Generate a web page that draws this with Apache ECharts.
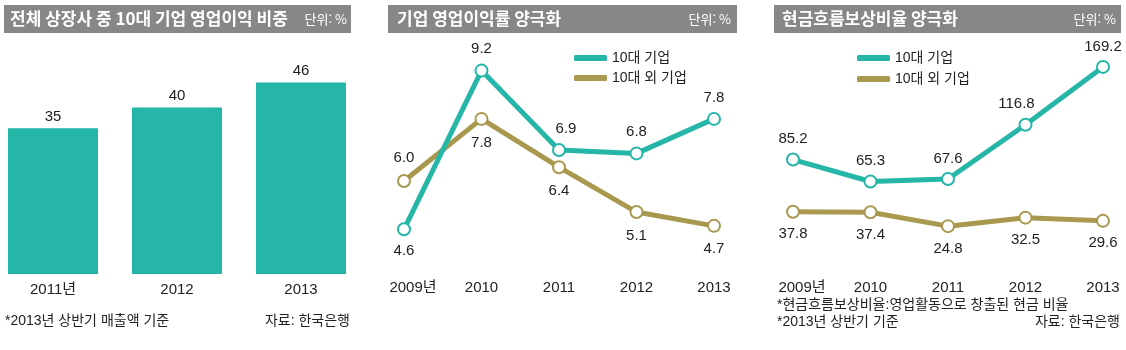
<!DOCTYPE html>
<html lang="ko">
<head>
<meta charset="UTF-8">
<title>10대 기업 양극화</title>
<script src="https://cdn.jsdelivr.net/npm/echarts@6/dist/echarts.min.js"></script>
<style>
    html, body {margin: 0; padding: 0; background: #fff;}
    #chart {width: 1126px; height: 350px;}
</style>
</head>
<body>
<div id="chart"></div>
<script>
    // 전체 상장사 중 10대 기업 영업이익 비중 (%)
    var shareYears = ['2011년', '2012', '2013'];
    var shareValues = [35, 40, 46];

    // 영업이익률 / 현금흐름보상비율
    var years = ['2009년', '2010', '2011', '2012', '2013'];
    var rateTop10 = [4.6, 9.2, 6.9, 6.8, 7.8];
    var rateOthers = [6.0, 7.8, 6.4, 5.1, 4.7];
    var cashTop10 = [85.2, 65.3, 67.6, 116.8, 169.2];
    var cashOthers = [37.8, 37.4, 24.8, 32.5, 29.6];

    var TEAL = '#25b6a8';
    var GOLD = '#a9994f';
    var GRAY = '#878787';
    var TXT = '#222';
    var NUM_FONT = "'Liberation Sans', 'Noto Sans CJK KR', sans-serif";
    var KR_FONT = "'Liberation Sans', 'Noto Sans CJK KR', sans-serif";
    var AXIS_FONT = "'Liberation Sans Narrow', 'Liberation Sans', 'Noto Sans CJK KR', sans-serif";

    var chart = echarts.init(document.getElementById('chart'));

    // 라벨 위치 (점 위/아래)
    function points(values, positions, shifts) {
        return values.map(function (v, i) {
            var lab = {position: positions[i]};
            if (shifts && shifts[i]) lab.offset = [shifts[i], 0];
            return {value: v, label: lab};
        });
    }

    function yearLabel(v, i) {
        return i === 0 ? '{first|' + v + '}' : v;
    }

    function lineSeries(name, color, data, xi, dist) {
        return {
            type: 'line',
            name: name,
            xAxisIndex: xi,
            yAxisIndex: xi,
            data: data,
            symbol: 'emptyCircle',
            symbolSize: 12,
            itemStyle: {color: color, borderWidth: 3},
            lineStyle: {color: color, width: 5},
            label: {
                show: true,
                distance: dist,
                color: TXT,
                fontSize: 15,
                fontFamily: NUM_FONT,
                formatter: function (p) { return p.value.toFixed(1); }
            },
            z: color === TEAL ? 3 : 2
        };
    }

    function legend(name, color, left, top) {
        return {
            left: left,
            top: top,
            icon: 'roundRect',
            itemWidth: 33,
            itemHeight: 6,
            selectedMode: false,
            data: [{name: name, itemStyle: {color: color, borderWidth: 0}}],
            textStyle: {color: TXT, fontSize: 14, lineHeight: 16, fontFamily: KR_FONT}
        };
    }

    function titleBar(x, w, title, tx) {
        return [{
            type: 'rect',
            shape: {x: x, y: 5, width: w, height: 28},
            style: {fill: GRAY},
            silent: true
        }, {
            type: 'text',
            x: tx, y: 19,
            style: {text: title, fill: '#fff', font: "bold 17px 'Noto Sans CJK KR', sans-serif",
                textVerticalAlign: 'middle'},
            silent: true
        }];
    }

    function note(text, x, y, align) {
        return {
            type: 'text',
            x: x, y: y,
            style: {text: text, fill: TXT, font: "14px " + KR_FONT,
                textAlign: align || 'left', textVerticalAlign: 'middle'},
            silent: true
        };
    }

    function unit(x, align) {
        return {
            type: 'text',
            x: x, y: 19,
            style: {text: '단위: %', fill: '#fff', font: "13px 'Noto Sans CJK KR', sans-serif",
                textAlign: align, textVerticalAlign: 'middle'},
            silent: true
        };
    }

    var graphics = []
        .concat(titleBar(4, 347, '전체 상장사 중 10대 기업 영업이익 비중', 10))
        .concat(titleBar(388, 349, '기업 영업이익률 양극화', 397))
        .concat(titleBar(774, 347, '현금흐름보상비율 양극화', 782))
        .concat([
            unit(347, 'right'), unit(731, 'right'), unit(1116, 'right'),
            note('*2013년 상반기 매출액 기준', 5, 321),
            note('자료: 한국은행', 350, 321, 'right'),
            note('*현금흐름보상비율:영업활동으로 창출된 현금 비율', 777, 305),
            note('*2013년 상반기 기준', 777, 322),
            note('자료: 한국은행', 1120, 322, 'right')
        ]);

    var catAxis = function (gi, data, margin) {
        return {
            type: 'category',
            gridIndex: gi,
            data: data,
            boundaryGap: false,
            axisLine: {show: false},
            axisTick: {show: false},
            axisLabel: {
                interval: 0,
                hideOverlap: false,
                margin: margin,
                color: TXT,
                fontSize: 15,
                fontFamily: AXIS_FONT,
                formatter: gi === 0 ? null : yearLabel,
                rich: {first: {padding: [0, 0, 0, 18], fontSize: 15, fontFamily: AXIS_FONT, color: TXT}}
            }
        };
    };

    var valAxis = function (gi, min, max) {
        return {
            type: 'value',
            gridIndex: gi,
            min: min,
            max: max,
            show: false,
            splitLine: {show: false}
        };
    };

    var option = {
        animation: false,
        backgroundColor: '#fff',
        textStyle: {fontFamily: KR_FONT},
        graphic: graphics,
        grid: [
            {left: 53, width: 248, top: 45, bottom: 76},
            {left: 404, width: 310, top: 43, height: 207},
            {left: 793, width: 310, top: 55, height: 198.5}
        ],
        xAxis: [
            catAxis(0, shareYears, 8),
            catAxis(1, years, 30),
            catAxis(2, years, 27)
        ],
        yAxis: [
            valAxis(0, 0, 55),
            valAxis(1, 4, 10),
            valAxis(2, 0, 180)
        ],
        legend: [
            legend('10대 기업', TEAL, 569, 45),
            legend('10대 외 기업', GOLD, 569, 65),
            legend('10대 기업', TEAL, 852, 45),
            legend('10대 외 기업', GOLD, 852, 66)
        ],
        series: [
            {
                type: 'bar',
                name: '비중',
                xAxisIndex: 0,
                yAxisIndex: 0,
                data: shareValues,
                barWidth: 90,
                itemStyle: {color: TEAL},
                label: {show: true, position: 'top', distance: 4, color: TXT, fontSize: 15, fontFamily: NUM_FONT}
            },
            lineSeries('10대 외 기업', GOLD,
                points(rateOthers, ['top', 'bottom', 'bottom', 'bottom', 'bottom']), 1, 9),
            lineSeries('10대 기업', TEAL,
                points(rateTop10, ['bottom', 'top', 'top', 'top', 'top'], [0, 0, 7, 0, 0]), 1, 7),
            lineSeries('10대 외 기업', GOLD,
                points(cashOthers, ['bottom', 'bottom', 'bottom', 'bottom', 'bottom']), 2, 8),
            lineSeries('10대 기업', TEAL,
                points(cashTop10, ['top', 'top', 'top', 'top', 'top'], [0, 0, 0, -9, 0]), 2, 6)
        ]
    };

    chart.setOption(option);
</script>
</body>
</html>
